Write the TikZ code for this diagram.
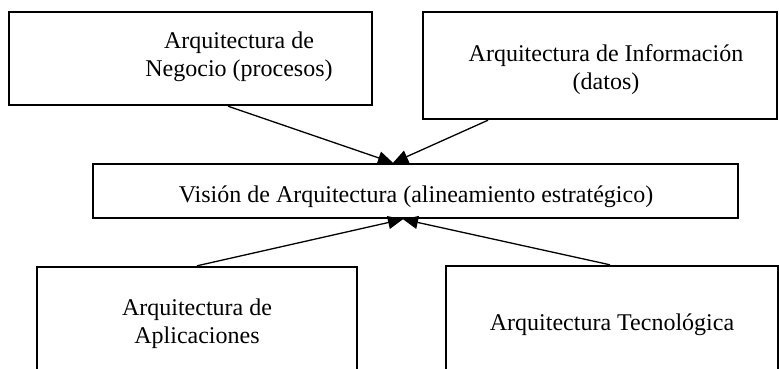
\documentclass[tikz,border=0pt]{standalone}
\usepackage{fontspec}
\setmainfont{Liberation Serif}
\usetikzlibrary{arrows.meta,calc}
\begin{document}
\begin{tikzpicture}[x=1pt,y=-1pt,
  boxnode/.style={draw,line width=2.4pt,inner sep=0pt},
  lbl/.style={inner sep=0pt,align=center,font=\fontsize{24}{28}\selectfont},
  conn/.style={line width=1.3pt,-{Triangle[length=15pt,width=13pt]}}]
\useasboundingbox (0,0) rectangle (779,368);
\clip (0,0) rectangle (779,368);
\node[boxnode,minimum width=363pt,minimum height=93pt] (neg) at (190.5,58.5) {};
\node[boxnode,minimum width=354pt,minimum height=107pt] (inf) at (600,65.5) {};
\node[boxnode,minimum width=645pt,minimum height=54pt] (vis) at (415.5,191) {};
\node[boxnode,minimum width=320pt,minimum height=140pt] (app) at (197,337) {};
\node[boxnode,minimum width=332pt,minimum height=140pt] (tec) at (612,336) {};
\node[lbl] (negt) at (239,57) {Arquitectura de\\Negocio (procesos)};
\node[lbl] (inft) at (606,70) {Arquitectura de Información\\(datos)};
\node[lbl,anchor=base] (vist) at (416,202) {Visión de Arquitectura (alineamiento estratégico)};
\node[lbl] (appt) at (197,324) {Arquitectura de\\Aplicaciones};
\node[lbl,anchor=base] (tect) at (612,330) {Arquitectura Tecnológica};
\coordinate (vtop) at ($(vis.north)+(-22.5,0)$);
\coordinate (vbot) at ($(vis.south)+(-12.5,0)$);
\draw[conn] ($(neg.south)+(37.5,0)$) -- (vtop);
\draw[conn] ($(inf.south)+(-112,0)$) -- (vtop);
\draw[conn] (app.north) -- (vbot);
\draw[conn] ($(tec.north)+(-2,0)$) -- (vbot);
\end{tikzpicture}
\end{document}
